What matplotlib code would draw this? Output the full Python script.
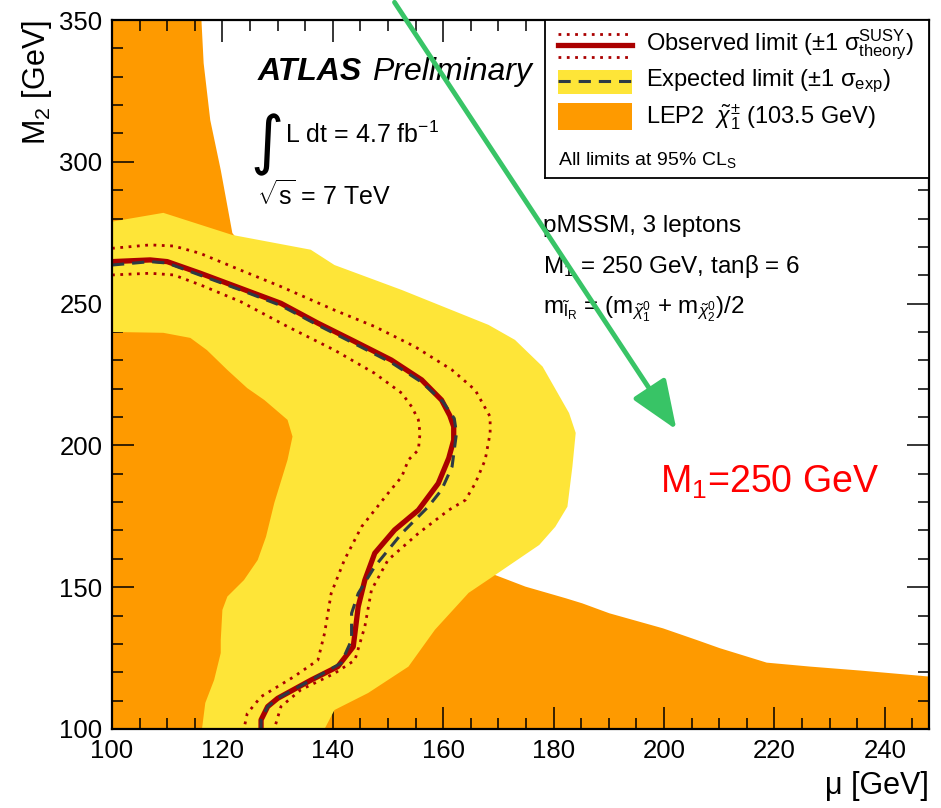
import matplotlib

matplotlib.use("Agg")
import matplotlib.pyplot as plt  # noqa: E402
from matplotlib.patches import FancyArrowPatch, Rectangle  # noqa: E402
from matplotlib.lines import Line2D  # noqa: E402

plt.rcParams["font.family"] = ["Liberation Sans", "DejaVu Sans"]
plt.rcParams["mathtext.fontset"] = "custom"
plt.rcParams["mathtext.rm"] = "Liberation Sans"
plt.rcParams["mathtext.it"] = "Liberation Sans:italic"
plt.rcParams["mathtext.bf"] = "Liberation Sans:bold"

# --- contours in the (mu, M2) plane, GeV ---
# LEP2 chargino exclusion (orange)
lep_mu = [100, 116.2, 116.6, 117.8, 119.7, 121.8, 169.4, 174.9, 182.2, 185.2,
          190.1, 199.8, 205.9, 210.1, 218.6, 226.5, 235.6, 248, 248, 100]
lep_m2 = [350, 350, 334.8, 314.7, 297.1, 274.9, 154.3, 150.2, 146.1, 144.3,
          140.8, 135.5, 131.4, 128.5, 123.4, 122.0, 120.6, 118.5, 100, 100]

# expected +-1 sigma band: outer edge, edge against the LEP2 region, inner edge
band_out_mu = [100, 109.3, 121.8, 136.0, 140.3, 152.5, 168.2, 173.0, 178.0,
               182.8, 184.0, 183.4, 182.5, 180.3, 177.4, 169.4]
band_out_m2 = [278.9, 282.0, 274.2, 269.0, 263.6, 254.8, 242.5, 237.2, 227.8,
               211.4, 204.4, 192.5, 178.4, 171.3, 164.9, 154.3]
band_lep_mu = [164.6, 158.5, 153.7, 146.4, 140.3, 138.5]
band_lep_m2 = [148.0, 135.0, 122.0, 112.7, 106.7, 100.0]
band_in_mu = [116.3, 116.9, 118.5, 119.7, 119.7, 120.0, 120.9, 123.9, 126.4,
              127.9, 129.4, 131.8, 132.7, 131.8, 127.6, 124.5, 120.9, 117.2,
              114.2, 109.3, 100]
band_in_m2 = [100, 109.2, 117.3, 126.8, 131.4, 142.0, 146.7, 152.5, 159.6,
              167.8, 179.7, 194.9, 203.1, 209.0, 216.0, 220.2, 226.6, 233.6,
              237.9, 239.7, 240.0]

obs_mu = [100, 106.9, 110.0, 116.0, 123.3, 130.6, 137.3, 144.0, 150.6, 156.1,
          159.7, 161.2, 161.9, 161.9, 161.0, 159.1, 155.5, 151.2, 147.6, 145.8,
          144.6, 143.7, 140.9, 136.1, 130.0, 128.2, 127.0, 127.0]
obs_m2 = [264.8, 265.4, 264.8, 260.7, 255.4, 250.1, 243.1, 236.6, 230.1, 223.1,
          216.0, 210.5, 206.6, 201.9, 195.5, 186.6, 177.2, 170.2, 162.0, 152.5,
          143.1, 129.0, 122.0, 117.3, 110.8, 107.9, 103.2, 100.0]

exp_mu = [100, 106.9, 110.0, 116.0, 123.3, 130.6, 137.3, 144.0, 150.6, 156.1,
          159.9, 162.0, 162.4, 161.6, 159.7, 157.3, 152.5, 147.6, 144.6, 143.4,
          143.4, 141.5, 136.1, 130.0, 128.2, 127.0, 127.0]
exp_m2 = [263.6, 264.8, 264.3, 260.0, 254.8, 249.3, 242.4, 235.8, 229.2, 222.3,
          215.5, 209.5, 204.3, 192.5, 184.3, 178.4, 169.0, 157.3, 147.8, 140.8,
          131.4, 123.2, 117.3, 110.8, 107.9, 103.2, 100.0]

th_up_mu = [100, 106.9, 111.2, 116.0, 123.3, 130.6, 140.3, 147.6, 154.9, 161.6,
            165.8, 168.5, 168.5, 167.6, 165.8, 164.0, 161.0, 155.5, 150.0, 147.0,
            145.8, 144.0, 140.3, 134.2, 130.6, 129.4]
th_up_m2 = [269.5, 270.7, 270.3, 267.7, 261.8, 256.0, 247.7, 241.9, 234.8, 226.6,
            219.5, 210.1, 204.3, 194.9, 186.6, 180.7, 177.2, 169.0, 159.6, 149.0,
            136.1, 124.3, 119.6, 113.8, 107.9, 100.0]

th_dn_mu = [100, 106.9, 111.2, 116.0, 123.3, 131.8, 140.3, 147.6, 152.5, 154.3,
            155.5, 155.8, 155.5, 153.7, 152.5, 150.0, 145.2, 142.1, 139.7, 138.5,
            137.3, 133.0, 127.0, 124.5, 123.9]
th_dn_m2 = [260.1, 260.7, 260.1, 256.6, 250.7, 241.9, 233.6, 225.4, 218.4, 213.6,
            209.0, 204.3, 198.4, 194.9, 189.0, 183.1, 171.3, 159.6, 147.8, 133.7,
            124.3, 118.5, 111.4, 105.5, 100.0]

ORANGE = "#fe9a00"
YELLOW = "#fee538"
DARKRED = "#aa0000"
SLATE = "#2d3a44"
GREEN = "#38c466"
DOTS = (0, (1, 2.0))
DASHES = (0, (4, 2.6))

fig = plt.figure(figsize=(9.41, 8.08), dpi=100)
ax = fig.add_axes([112 / 941, 1 - 729 / 808, 817 / 941, 709 / 808])

ax.fill(lep_mu, lep_m2, color=ORANGE, lw=0, zorder=1)
band_mu = band_out_mu + band_lep_mu + band_in_mu
band_m2 = band_out_m2 + band_lep_m2 + band_in_m2
ax.fill(band_mu, band_m2, color=YELLOW, lw=0, zorder=2)

ax.plot(th_up_mu, th_up_m2, color=DARKRED, lw=2.0, ls=DOTS, zorder=3)
ax.plot(th_dn_mu, th_dn_m2, color=DARKRED, lw=2.0, ls=DOTS, zorder=3)
ax.plot(obs_mu, obs_m2, color=DARKRED, lw=3.8, solid_joinstyle="round", zorder=4)
ax.plot(exp_mu, exp_m2, color=SLATE, lw=2.2, ls=DASHES, zorder=5)

ax.set_xlim(100, 248)
ax.set_ylim(100, 350)
ax.set_xticks(range(100, 241, 20))
ax.set_xticks(range(100, 249, 5), minor=True)
ax.set_yticks(range(100, 351, 50))
ax.set_yticks(range(100, 351, 10), minor=True)
ax.tick_params(which="both", direction="in", top=True, right=True,
               labelsize=18.5, pad=7)
ax.tick_params(which="major", length=16, width=1.1)
ax.tick_params(which="minor", length=8, width=1.1)
for s in ax.spines.values():
    s.set_linewidth(1.6)
    s.set_zorder(10)
ax.set_xlabel("μ [GeV]", fontsize=22, loc="right", labelpad=6)
ax.set_ylabel("M$_2$ [GeV]", fontsize=22, loc="top", labelpad=4)

# labels inside the frame
fig.text(258 / 941, 1 - 80 / 808, "ATLAS", fontsize=23, fontweight="bold",
         fontstyle="italic")
fig.text(372 / 941, 1 - 80 / 808, "Preliminary", fontsize=23, fontstyle="italic")
fig.text(250 / 941, 1 - 162 / 808, "∫", fontsize=46, family=["DejaVu Sans"])
fig.text(285 / 941, 1 - 143 / 808, "L dt = 4.7 fb$^{-1}$", fontsize=18)
fig.text(257 / 941, 1 - 205 / 808, r"$\sqrt{\rm s}$ = 7 TeV", fontsize=18)
fig.text(543 / 941, 1 - 232 / 808, "pMSSM, 3 leptons", fontsize=17.5)
fig.text(543 / 941, 1 - 273 / 808, "M$_1$ = 250 GeV, tanβ = 6", fontsize=17.5)
fig.text(543 / 941, 1 - 314 / 808,
         r"m$_{\tilde{\rm l}_{\rm R}}$ = (m$_{\tilde{\chi}^{0}_{1}}$ + "
         r"m$_{\tilde{\chi}^{0}_{2}}$)/2", fontsize=17.5)

# legend box
lg = fig.add_axes([545 / 941, 1 - 178 / 808, 384 / 941, 158 / 808])
lg.set_xlim(0, 384)
lg.set_ylim(158, 0)
lg.set_xticks([])
lg.set_yticks([])
for s in lg.spines.values():
    s.set_linewidth(1.3)
lg.add_line(Line2D([13, 87], [14, 14], color=DARKRED, lw=2.0, ls=DOTS))
lg.add_line(Line2D([13, 87], [25, 25], color=DARKRED, lw=3.8))
lg.add_line(Line2D([13, 87], [37, 37], color=DARKRED, lw=2.0, ls=DOTS))
lg.add_patch(Rectangle((13, 50), 74, 24, color=YELLOW, lw=0))
lg.add_line(Line2D([13, 87], [61, 61], color=SLATE, lw=2.2, ls=DASHES))
lg.add_patch(Rectangle((13, 83), 74, 27, color=ORANGE, lw=0))
lg.text(101, 25, r"Observed limit ($\pm$1 σ$^{\rm SUSY}_{\rm theory}$)",
        fontsize=17, va="center")
lg.text(101, 61, r"Expected limit ($\pm$1 σ$_{\rm exp}$)", fontsize=17,
        va="center")
lg.text(101, 97, r"LEP2  $\tilde{\chi}^{\pm}_{1}$ (103.5 GeV)", fontsize=17,
        va="center")
lg.text(13, 140, "All limits at 95% CL$_{\\rm S}$", fontsize=14, va="center")

# annotation overlay
fig.text(660 / 941, 1 - 493 / 808, "M$_1$=250 GeV", fontsize=27, color="red")
arrow = FancyArrowPatch((393 / 941, 1.0), (678 / 941, 1 - 432 / 808),
                        transform=fig.transFigure,
                        arrowstyle="-|>,head_length=1.5,head_width=0.6",
                        mutation_scale=20, lw=3.5, color=GREEN, zorder=20)
fig.patches.append(arrow)

fig.savefig("out.png", dpi=100)
